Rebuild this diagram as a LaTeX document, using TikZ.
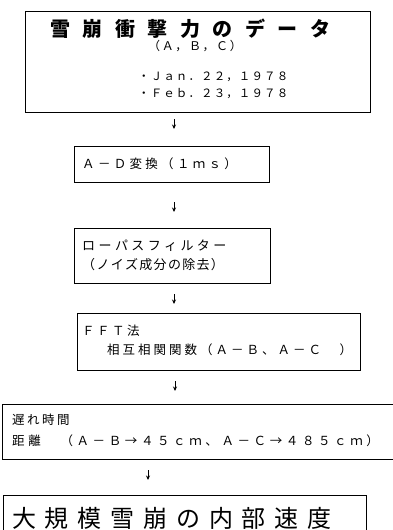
\documentclass[tikz,border=0pt]{standalone}
\usepackage{fontspec}
\usetikzlibrary{arrows.meta}
\newfontfamily\jp{Noto Sans CJK JP}
\def\ls#1{\def\lsgap{#1}\lsloop}
\def\lsloop#1{\ifx#1\relax\else#1\hspace{\lsgap}\expandafter\lsloop\fi}
\tikzset{
  flowbox/.style={draw=black, line width=0.8pt, inner sep=0pt, rectangle},
  txt/.style={anchor=west, inner sep=0pt, font=\jp},
  flowarrow/.style={line width=0.9pt, -{Stealth[length=4.5pt,width=4pt]}}
}
\begin{document}
\begin{tikzpicture}[x=1pt,y=-1pt]
\useasboundingbox (0,0) rectangle (392,530);
% boxes
\node[flowbox, minimum width=345pt, minimum height=101pt] (b1) at (197.5,61.5) {};
\node[flowbox, minimum width=195pt, minimum height=36pt] (b2) at (171.5,164) {};
\node[flowbox, minimum width=196pt, minimum height=55pt] (b3) at (172,255.5) {};
\node[flowbox, minimum width=283pt, minimum height=57pt] (b4) at (218.5,341.5) {};
\node[flowbox, minimum width=400pt, minimum height=55pt] (b5) at (202,431.5) {};
\node[flowbox, minimum width=363pt, minimum height=60pt] (b6) at (184.5,525) {};
% texts
\node[txt, font=\jp\bfseries\fontsize{20}{20}\selectfont] (t1a) at (50,29) {\ls{12.5pt}雪崩衝撃力のデータ\relax};
\node[txt, font=\jp\fontsize{12}{12}\selectfont] (t1b) at (148,46) {\ls{1.6pt}（Ａ，Ｂ，Ｃ）\relax};
\node[txt, font=\jp\fontsize{11.5}{11.5}\selectfont] (t1c) at (138,77) {\ls{1.1pt}・Ｊａｎ．２２，１９７８\relax};
\node[txt, font=\jp\fontsize{11.5}{11.5}\selectfont] (t1d) at (138,94) {\ls{1.1pt}・Ｆｅｂ．２３，１９７８\relax};
\node[txt, font=\jp\fontsize{12.5}{12.5}\selectfont] (t2) at (82,164) {\ls{3.3pt}Ａ－Ｄ変換（１ｍｓ）\relax};
\node[txt, font=\jp\fontsize{13}{13}\selectfont] (t3a) at (82,246) {\ls{3.4pt}ローパスフィルター\relax};
\node[txt, font=\jp\fontsize{13}{13}\selectfont] (t3b) at (82,265) {\ls{1.3pt}（ノイズ成分の除去）\relax};
\node[txt, font=\jp\fontsize{12.5}{12.5}\selectfont] (t4a) at (82,331) {\ls{2.5pt}ＦＦＴ法\relax};
\node[txt, font=\jp\fontsize{12.5}{12.5}\selectfont] (t4b) at (107,350) {\ls{3pt}相互相関関数（Ａ－Ｂ、Ａ－Ｃ　）\relax};
\node[txt, font=\jp\fontsize{12.5}{12.5}\selectfont] (t5a) at (12,420) {\ls{2.5pt}遅れ時間\relax};
\node[txt, font=\jp\fontsize{12.5}{12.5}\selectfont] (t5b) at (12,441) {\ls{3.6pt}距離　（Ａ－Ｂ→４５ｃｍ、Ａ－Ｃ→４８５ｃｍ）\relax};
\node[txt, font=\jp\fontsize{24}{24}\selectfont] (t6) at (12,518) {\ls{8.8pt}大規模雪崩の内部速度\relax};
% arrows
\coordinate (a1s) at (174,119); \coordinate (a1e) at (174,129);
\coordinate (a2s) at (174,202); \coordinate (a2e) at (174,212);
\coordinate (a3s) at (174,294); \coordinate (a3e) at (174,304);
\coordinate (a4s) at (175,381); \coordinate (a4e) at (175,391);
\coordinate (a5s) at (148,470); \coordinate (a5e) at (148,480);
\draw[flowarrow] (a1s) -- (a1e);
\draw[flowarrow] (a2s) -- (a2e);
\draw[flowarrow] (a3s) -- (a3e);
\draw[flowarrow] (a4s) -- (a4e);
\draw[flowarrow] (a5s) -- (a5e);
\end{tikzpicture}
\end{document}
